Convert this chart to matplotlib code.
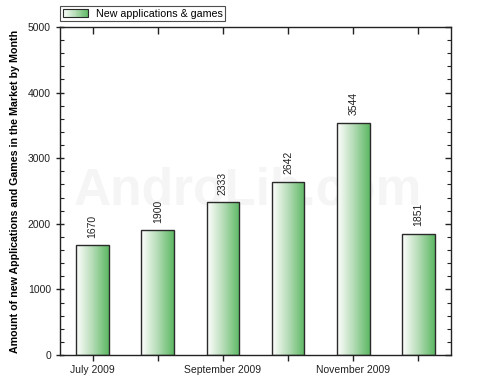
import numpy as np
import matplotlib
matplotlib.use("Agg")
import matplotlib.pyplot as plt
from matplotlib.patches import Rectangle
from matplotlib.legend_handler import HandlerBase
from matplotlib.colors import LinearSegmentedColormap
from matplotlib.ticker import MultipleLocator

months = ["July 2009", "August 2009", "September 2009", "October 2009", "November 2009", "December 2009"]
values = [1670, 1900, 2333, 2642, 3544, 1851]
tick_labels = ["July 2009", "", "September 2009", "", "November 2009", ""]
series_name = "New applications & games"
y_label = "Amount of new Applications and Games in the Market by Month"

plt.rcParams['font.family'] = ['Liberation Sans', 'DejaVu Sans']

cmap = LinearSegmentedColormap.from_list("g", ["#ffffff", "#b5dcb6", "#5cb863"])

fig = plt.figure(figsize=(5, 3.84), dpi=100)
ax = fig.add_axes([60/500, 1-355/384, 391/500, 328/384])

x = np.arange(len(values))
width = 0.5
grad = np.linspace(0, 1, 256).reshape(1, -1)
bars = ax.bar(x, values, width=width, facecolor="none", edgecolor="#2a2a2a", linewidth=1.0, zorder=3)
for b in bars:
    x0, y0, w, h = b.get_x(), b.get_y(), b.get_width(), b.get_height()
    im = ax.imshow(grad, extent=[x0, x0 + w, y0, y0 + h], aspect="auto", cmap=cmap,
                   origin="lower", zorder=2, interpolation="bicubic")
    im.set_clip_path(b)

for xi, v in zip(x, values):
    ax.text(xi, v + 110, str(v), rotation=90, ha="center", va="bottom", fontsize=7.5, color="#222222",
            zorder=4)

ax.text(0.48, 0.5, "AndroLib.com", transform=ax.transAxes, fontsize=37, fontweight="bold",
        color="#f5f5f5", ha="center", va="center", zorder=1)

ax.set_xlim(-0.5, len(values) - 0.5)
ax.set_ylim(0, 5000)
ax.set_xticks(x)
ax.set_xticklabels(tick_labels, fontsize=7.5, color="#222222")
ax.yaxis.set_major_locator(MultipleLocator(1000))
ax.yaxis.set_minor_locator(MultipleLocator(200))
ax.tick_params(axis="y", which="major", direction="inout", length=6, labelsize=7.5, labelcolor="#222222",
               width=1, color="#222222")
ax.tick_params(axis="y", which="minor", direction="in", length=3, width=0.8, color="#222222")
ax.tick_params(axis="x", which="major", direction="inout", length=9, width=1, pad=3, color="#222222")
for sp in ax.spines.values():
    sp.set_color("#222222")
    sp.set_linewidth(1.0)
ax.set_ylabel(y_label, fontsize=7.7, fontweight="bold", labelpad=6)

# top and right axes with inward ticks
top = ax.secondary_xaxis("top")
top.set_xticks(x)
top.tick_params(direction="in", length=5, width=1, labeltop=False, color="#222222")
top.spines["top"].set_visible(False)
right = ax.secondary_yaxis("right")
right.yaxis.set_major_locator(MultipleLocator(1000))
right.yaxis.set_minor_locator(MultipleLocator(200))
right.tick_params(which="major", direction="in", length=4, width=1, labelright=False, color="#222222")
right.tick_params(which="minor", direction="in", length=3, width=0.8, color="#222222")
right.spines["right"].set_visible(False)


class GradHandler(HandlerBase):
    def create_artists(self, legend, orig_handle, xdescent, ydescent, width, height, fontsize, trans):
        arts = []
        n = 30
        for i in range(n):
            c = cmap((i + 0.5) / n)
            arts.append(Rectangle((-xdescent + width * i / n, -ydescent), width / n, height,
                                  facecolor=c, edgecolor="none", transform=trans))
        arts.append(Rectangle((-xdescent, -ydescent), width, height, facecolor="none",
                              edgecolor="#2a2a2a", linewidth=0.8, transform=trans))
        return arts


handle = Rectangle((0, 0), 1, 1)
leg = fig.legend([handle], [series_name], handler_map={Rectangle: GradHandler()},
                 loc="upper left", bbox_to_anchor=(60/500, 1 - 6/384), fontsize=7.7,
                 frameon=True, fancybox=False, borderpad=0.25, handlelength=2.4, handleheight=0.75,
                 handletextpad=0.7, borderaxespad=0)
leg.get_frame().set_edgecolor("#222222")
leg.get_frame().set_linewidth(0.8)

fig.savefig("out.png", dpi=100)
